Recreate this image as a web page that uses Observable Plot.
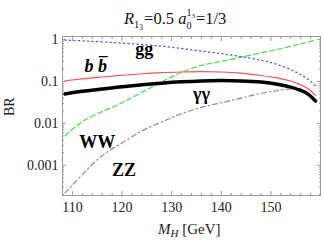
<!DOCTYPE html>
<html><head><meta charset="utf-8">
<script src="https://cdn.jsdelivr.net/npm/d3@7"></script>
<script src="https://cdn.jsdelivr.net/npm/@observablehq/plot@0.6"></script>
<style>body{margin:0;background:#fff} svg{display:block}</style>
</head><body><div id="chart"></div>
<script>
// Higgs mass [GeV]
const mass = [108.5, 112, 116, 120, 124, 128, 132, 136, 140, 144, 148, 151, 154, 156, 157.5, 159];
// Branching ratios
const brGG = [0.97, 0.93, 0.88, 0.82, 0.76, 0.69, 0.61, 0.53, 0.46, 0.39, 0.32, 0.26, 0.19, 0.145, 0.112, 0.078];
const brBB = [0.104, 0.115, 0.128, 0.140, 0.152, 0.162, 0.168, 0.171, 0.168, 0.158, 0.139, 0.123, 0.102, 0.083, 0.067, 0.046];
const brAA = [0.050, 0.058, 0.066, 0.075, 0.083, 0.091, 0.098, 0.103, 0.105, 0.103, 0.097, 0.087, 0.073, 0.061, 0.050, 0.034];
const brWW = [0.0050, 0.011, 0.019, 0.031, 0.055, 0.098, 0.165, 0.24, 0.30, 0.38, 0.48, 0.57, 0.69, 0.78, 0.87, 0.98];
const brZZ = [0.00022, 0.0006, 0.0017, 0.0034, 0.0066, 0.0108, 0.017, 0.024, 0.031, 0.040, 0.052, 0.060, 0.066, 0.068, null, null];

// Axis ticks
const xTicks = [110, 120, 130, 140, 150];
const xMinor = [108, 112, 114, 116, 118, 122, 124, 126, 128, 132, 134, 136, 138, 142, 144, 146, 148, 152, 154, 156, 158];
const yTicks = [0.001, 0.01, 0.1, 1];
const yTickLabels = ["0.001", "0.01", "0.1", "1"];
const yMinor = [];
for (const dec of [0.0001, 0.001, 0.01, 0.1]) for (let k = 2; k <= 9; k++) yMinor.push(+(dec * k).toPrecision(3));
const yMinorIn = yMinor.filter(v => v >= 0.00019 && v <= 1.18);

// Curve labels
const labX = [124.5, 136, 115, 120.4];
const labY = [0.6, 0.049, 0.0036, 0.00076];
const labT = ["gg", "γγ", "WW", "ZZ"];
const labStyle = ["normal", "italic", "normal", "normal"];

const rows = (ys, name) => mass.map((m, i) => ({m, v: ys[i], s: name})).filter(d => d.v != null);

const frameColor = "#9a9a9a";
const plot = Plot.plot({
  width: 324, height: 241,
  marginLeft: 62, marginRight: 4, marginTop: 36, marginBottom: 46,
  style: {fontFamily: "'Liberation Serif', serif", fontSize: "14px", background: "white", color: "#222"},
  x: {domain: [108, 160]},
  y: {type: "log", domain: [0.00019, 1.18]},
  marks: [
    Plot.frame({stroke: frameColor}),
    Plot.text(yTicks, {y: d => d, frameAnchor: "left", dx: -4, textAnchor: "end", text: (d, i) => yTickLabels[i], fontSize: 14, fill: "#222"}),
    Plot.axisY(yTicks, {anchor: "left", tickSize: -4, text: null, label: null, stroke: frameColor}),
    Plot.axisY(yTicks, {anchor: "right", tickSize: -4, text: null, label: null, stroke: frameColor}),
    Plot.axisY(yMinorIn, {anchor: "left", tickSize: -2, text: null, label: null, stroke: frameColor}),
    Plot.axisY(yMinorIn, {anchor: "right", tickSize: -2, text: null, label: null, stroke: frameColor}),
    Plot.axisX(xTicks, {anchor: "bottom", tickSize: 0, tickPadding: 7, label: null, fontSize: 14}),
    Plot.axisX(xTicks, {anchor: "bottom", tickSize: -4, text: null, label: null, stroke: frameColor}),
    Plot.axisX(xTicks, {anchor: "top", tickSize: -4, text: null, label: null, stroke: frameColor}),
    Plot.axisX(xMinor, {anchor: "bottom", tickSize: -2, text: null, label: null, stroke: frameColor}),
    Plot.axisX(xMinor, {anchor: "top", tickSize: -2, text: null, label: null, stroke: frameColor}),
    Plot.lineY(rows(brZZ, "ZZ"), {x: "m", y: "v", curve: "natural", stroke: "#9a7fa8", strokeWidth: 1.2, strokeDasharray: "5,3,1.5,3"}),
    Plot.lineY(rows(brWW, "WW"), {x: "m", y: "v", curve: "natural", stroke: "#3ee03e", strokeWidth: 1.2, strokeDasharray: "5,3"}),
    Plot.lineY(rows(brGG, "gg"), {x: "m", y: "v", curve: "natural", stroke: "#5555ff", strokeWidth: 1.3, strokeDasharray: "1.3,3.2"}),
    Plot.lineY(rows(brBB, "bb"), {x: "m", y: "v", curve: "natural", stroke: "#ff4d4d", strokeWidth: 1.1}),
    Plot.lineY(rows(brAA, "aa"), {x: "m", y: "v", curve: "natural", stroke: "#000", strokeWidth: 3.5}),
    Plot.text(labT, {x: (d, i) => labX[i], y: (d, i) => labY[i], text: d => d, fontSize: 18, fontWeight: "bold", fontStyle: (d, i) => labStyle[i], fill: "#000"}),
    Plot.text(["b b\u0305"], {x: [114.7], y: [0.227], text: d => d, fontSize: 18, fontWeight: "bold", fontStyle: "italic", fill: "#000"}),
    Plot.text(["BR"], {frameAnchor: "left", dx: -53, rotate: -90, text: d => d, fontSize: 14, fill: "#222"})
  ]
});
document.getElementById("chart").append(plot);

// Title and x label with sub/superscripts
const svg = d3.select(plot);
const title = svg.append("text").attr("x", 124).attr("y", 24).attr("text-anchor", "start")
  .attr("font-family", "'Liberation Serif', serif").attr("font-size", 16.5).attr("fill", "#111");
title.append("tspan").attr("font-style", "italic").text("R");
title.append("tspan").attr("font-size", 10.5).attr("dy", 4).text("1");
title.append("tspan").attr("font-size", 7.5).attr("dy", 2).text("3");
title.append("tspan").attr("dy", -6).attr("dx", 1).text("=0.5 ");
title.append("tspan").attr("font-style", "italic").text("a");
title.append("tspan").attr("font-size", 10).attr("dy", 5).text("0");
title.append("tspan").attr("font-size", 10).attr("dx", -5).attr("dy", -13).text("1");
title.append("tspan").attr("font-size", 7).attr("dy", 2).text("3");
title.append("tspan").attr("dy", 6).attr("dx", 1).text("=1/3");

const xl = svg.append("text").attr("x", 158).attr("y", 234).attr("text-anchor", "start")
  .attr("font-family", "'Liberation Serif', serif").attr("font-size", 15).attr("fill", "#222");
xl.append("tspan").attr("font-style", "italic").text("M");
xl.append("tspan").attr("font-style", "italic").attr("font-size", 11).attr("dy", 3).text("H");
xl.append("tspan").attr("dy", -3).text(" [GeV]");
</script>
</body></html>
